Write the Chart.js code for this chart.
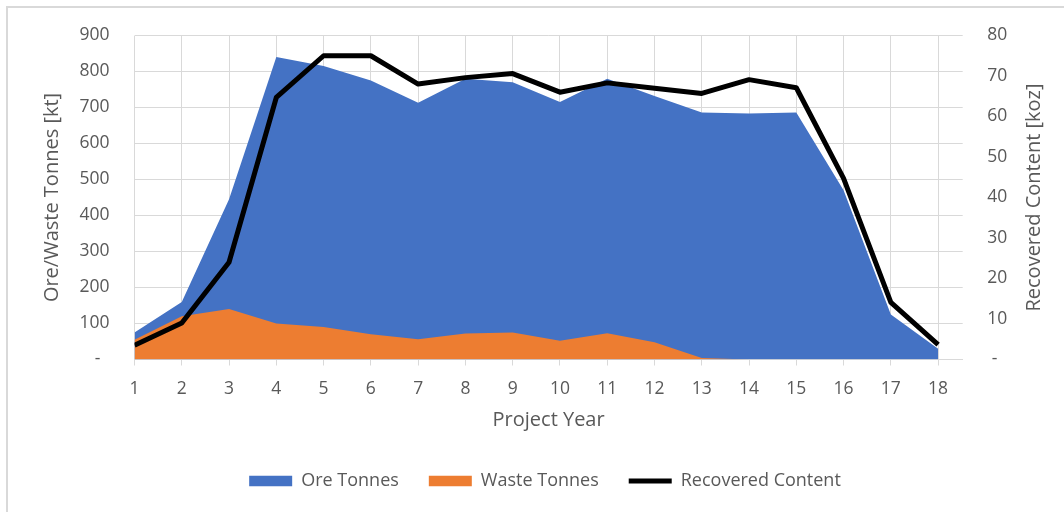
<!DOCTYPE html>
<html>
<head>
<meta charset="utf-8">
<script src="https://cdn.jsdelivr.net/npm/chart.js@4/dist/chart.umd.min.js"></script>
<style>
    html, body { margin: 0; padding: 0; background: #fff; }
    #wrap { position: relative; width: 1064px; height: 512px; overflow: hidden; }
    #frame {
        position: absolute; left: 6px; top: 6px; width: 1200px; height: 700px;
        border-left: 2px solid #d9d9d9; border-top: 2px solid #d9d9d9;
    }
    #chart { position: absolute; left: 0; top: 0; }
</style>
</head>
<body>
<div id="wrap">
    <div id="frame"></div>
    <canvas id="chart" width="1064" height="512"></canvas>
</div>
<script>
// Mine schedule: tonnes mined per year (left axis) and recovered metal (right axis)
const years = [1, 2, 3, 4, 5, 6, 7, 8, 9, 10, 11, 12, 13, 14, 15, 16, 17, 18];
const oreTonnes = [75, 160, 445, 840, 815, 775, 713, 780, 770, 715, 780, 732, 686, 683, 686, 470, 125, 30];
const wasteTonnes = [55, 120, 140, 100, 90, 70, 56, 72, 75, 52, 73, 48, 4, 0, 0, 0, 0, 0];
const recovered = [3.5, 9, 24, 64.7, 75, 75, 68, 69.6, 70.6, 66, 68.3, 67, 65.7, 69.1, 67.1, 44.7, 14.1, 3.7];
const tonneTicks = [0, 100, 200, 300, 400, 500, 600, 700, 800, 900];
const contentTicks = [0, 10, 20, 30, 40, 50, 60, 70, 80];

const GRID = '#d9d9d9';
const TEXT = '#595959';
const FONT = 'Open Sans';
const RIGHT_TITLE = 'Recovered Content [koz]';

const pts = (vals) => vals.map((v, i) => ({ x: years[i], y: v }));
const dashZero = (v, pad) => v === 0 ? pad : String(v);

// secondary axis title, read bottom-to-top like the primary one
const rightTitle = {
    id: 'rightTitle',
    afterDraw(chart) {
        const s = chart.scales.y2;
        const ctx = chart.ctx;
        ctx.save();
        ctx.translate(s.right - 30, (s.top + s.bottom) / 2);
        ctx.rotate(-Math.PI / 2);
        ctx.fillStyle = TEXT;
        ctx.font = '20px "' + FONT + '"';
        ctx.textAlign = 'center';
        ctx.textBaseline = 'middle';
        ctx.fillText(RIGHT_TITLE, 0, 0);
        ctx.restore();
    }
};

new Chart(document.getElementById('chart'), {
    type: 'line',
    data: {
        datasets: [
            {
                label: 'Ore Tonnes',
                data: pts(oreTonnes),
                yAxisID: 'y',
                backgroundColor: '#4472C4',
                borderWidth: 0,
                fill: 'origin',
                pointRadius: 0,
                pointStyle: 'rect',
                order: 2
            },
            {
                label: 'Waste Tonnes',
                data: pts(wasteTonnes),
                yAxisID: 'y',
                backgroundColor: '#ED7D31',
                borderWidth: 0,
                fill: 'origin',
                pointRadius: 0,
                pointStyle: 'rect',
                order: 1
            },
            {
                label: 'Recovered Content',
                data: pts(recovered),
                yAxisID: 'y2',
                borderColor: '#000000',
                backgroundColor: '#000000',
                borderWidth: 5,
                borderJoinStyle: 'round',
                fill: false,
                tension: 0,
                pointRadius: 0,
                pointStyle: 'line',
                order: 0
            }
        ]
    },
    plugins: [rightTitle],
    options: {
        responsive: false,
        animation: false,
        devicePixelRatio: 1,
        layout: { padding: { top: 32.5, left: 26, right: 0, bottom: 12 } },
        plugins: {
            tooltip: { enabled: false },
            legend: {
                position: 'bottom',
                labels: {
                    usePointStyle: true,
                    pointStyleWidth: 43,
                    boxHeight: 10.5,
                    padding: 30,
                    color: TEXT,
                    font: { family: FONT, size: 18 },
                    sort: (a, b) => a.datasetIndex - b.datasetIndex
                }
            }
        },
        scales: {
            x: {
                type: 'linear',
                min: 1,
                max: 18.52,
                afterBuildTicks: (s) => { s.ticks = years.map(v => ({ value: v })); },
                afterFit: (s) => { s.height = 82.5; },
                grid: { color: GRID, lineWidth: 1, tickLength: 6, drawTicks: true },
                border: { display: true, color: GRID },
                ticks: { color: TEXT, font: { family: FONT, size: 17.5 }, padding: 13, maxRotation: 0, autoSkip: false },
                title: {
                    display: true, text: 'Project Year', color: TEXT,
                    font: { family: FONT, size: 20 }, padding: { top: 0, bottom: 10 }
                }
            },
            y: {
                position: 'left',
                min: 0,
                max: 900,
                afterBuildTicks: (s) => { s.ticks = tonneTicks.map(v => ({ value: v })); },
                afterFit: (s) => { s.width = 108.5; },
                grid: { color: GRID, lineWidth: 1, drawTicks: false },
                border: { display: false },
                ticks: {
                    color: TEXT, font: { family: FONT, size: 17.5 }, padding: 25,
                    callback: (v) => dashZero(v, '-  ')
                },
                title: {
                    display: true, text: 'Ore/Waste Tonnes [kt]', color: TEXT,
                    font: { family: FONT, size: 20 }, padding: { top: 14.5, bottom: 0 }
                }
            },
            y2: {
                position: 'right',
                min: 0,
                max: 80,
                afterBuildTicks: (s) => { s.ticks = contentTicks.map(v => ({ value: v })); },
                afterFit: (s) => { s.width = 101.3; },
                grid: { drawOnChartArea: false, drawTicks: false },
                border: { display: false },
                ticks: {
                    color: TEXT, font: { family: FONT, size: 17.5 }, padding: 24.5,
                    callback: (v) => dashZero(v, ' -')
                }
            }
        }
    }
});
</script>
</body>
</html>
